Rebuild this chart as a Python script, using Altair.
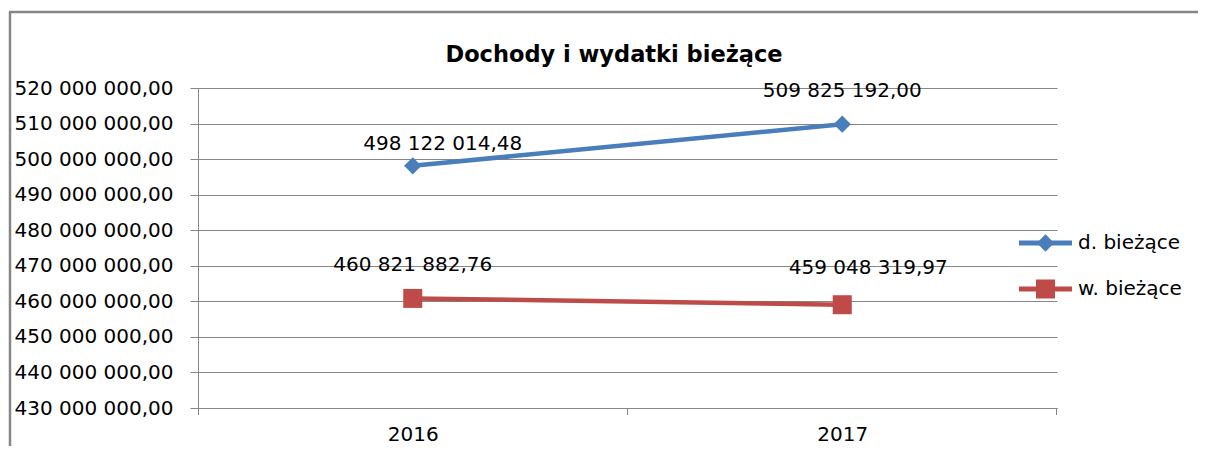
import altair as alt
import pandas as pd

# ---- data ----
years = ["2016", "2017"]
series_names = ["d. bieżące", "w. bieżące"]
d_values = [498122014.48, 509825192.00]
w_values = [460821882.76, 459048319.97]
y_ticks = [430e6, 440e6, 450e6, 460e6, 470e6, 480e6, 490e6, 500e6, 510e6, 520e6]
title_text = "Dochody i wydatki bieżące"

rows = []
for s, vals in zip(series_names, [d_values, w_values]):
    for yr, v in zip(years, vals):
        rows.append({"rok": yr, "seria": s, "wartosc": v})
df = pd.DataFrame(rows)

FONT = "DejaVu Sans"
GRID = "#868686"
COLORS = ["#4a7ebb", "#be4b48"]
SHAPES = ["diamond", "square"]
SIZES = [300, 361]
W, H = 859, 320

lab_expr = "replace(replace(format({v}, ',.2f'), regexp(',', 'g'), ' '), '.', ',')"

x_enc = alt.X(
    "rok:N",
    scale=alt.Scale(type="point", domain=years, padding=0.5),
    axis=alt.Axis(title=None, ticks=False, labelAngle=0, labelFontSize=20, labelFont=FONT,
                  labelColor="black", labelPadding=16, domainColor=GRID, domainWidth=1,
                  grid=False),
)
y_enc = alt.Y(
    "wartosc:Q",
    scale=alt.Scale(domain=[y_ticks[0], y_ticks[-1]], nice=False, zero=False),
    axis=alt.Axis(title=None, values=y_ticks, labelExpr=lab_expr.format(v="datum.value"),
                  tickSize=8, tickColor=GRID, gridColor=GRID, gridWidth=1, gridOpacity=1,
                  domainColor=GRID, labelFontSize=20, labelFont=FONT, labelColor="black",
                  labelPadding=17, labelOverlap=False, labelBaseline="middle"),
)

base = alt.Chart(df)
one = alt.Chart(pd.DataFrame({"k": [0]}))

color_scale = alt.Scale(domain=series_names, range=COLORS)

lines = base.mark_line(strokeWidth=4.5).encode(
    x=x_enc, y=y_enc, color=alt.Color("seria:N", scale=color_scale, legend=None)
)

points = [
    base.transform_filter(alt.datum.seria == series_names[i]).mark_point(
        shape=SHAPES[i], filled=True, size=SIZES[i], color=COLORS[i], opacity=1
    ).encode(x=x_enc, y=y_enc)
    for i in range(2)
]

# data labels (manually nudged as in the source)
def label(series_idx, year_idx, dx, dy):
    return base.transform_filter(
        (alt.datum.seria == series_names[series_idx]) & (alt.datum.rok == years[year_idx])
    ).transform_calculate(
        txt=lab_expr.format(v="datum.wartosc")
    ).mark_text(fontSize=20, font=FONT, color="black", dx=dx, dy=dy, align="center",
                baseline="middle").encode(x=x_enc, y=y_enc, text="txt:N")

labels = [label(0, 0, 30, -22), label(0, 1, 0, -33), label(1, 0, 0, -33), label(1, 1, 26, -37)]

# legend (drawn at the right, Excel style: line with marker)
legend_layers = []
for i, name in enumerate(series_names):
    ly = 155 + 46 * i
    legend_layers.append(one.mark_rule(color=COLORS[i], strokeWidth=5).encode(
        x=alt.value(821), x2=alt.value(874), y=alt.value(ly)))
    legend_layers.append(one.mark_point(shape=SHAPES[i], filled=True, size=SIZES[i],
                                        color=COLORS[i], opacity=1).encode(
        x=alt.value(847.5), y=alt.value(ly)))
    legend_layers.append(one.mark_text(fontSize=20, font=FONT, color="black", align="left",
                                       baseline="middle").encode(
        x=alt.value(880), y=alt.value(ly), text=alt.value(name)))

# category boundary ticks on x axis
xticks = [
    one.mark_rule(color=GRID, strokeWidth=1).encode(x=alt.value(xv), y=alt.value(H), y2=alt.value(H + 7))
    for xv in [0.5, W / 2, W - 0.5]
]

# outer chart frame
frame_left = one.mark_rule(color=GRID, strokeWidth=2.5).encode(
    x=alt.value(-188), y=alt.value(-76), y2=alt.value(H + 40))
frame_top = one.mark_rule(color=GRID, strokeWidth=2.5).encode(
    x=alt.value(-189), x2=alt.value(W + 141), y=alt.value(-76))

# chart title
title = one.mark_text(fontSize=22.5, font=FONT, fontWeight="bold", color="black",
                      align="center", baseline="alphabetic").encode(
    x=alt.value(416), y=alt.value(-26), text=alt.value(title_text))

chart = alt.layer(
    frame_left, frame_top, *xticks, lines, *points, *labels, *legend_layers, title
).properties(
    width=W, height=H,
    padding={"left": 190, "top": 80, "right": 141, "bottom": 38},
    autosize=alt.AutoSizeParams(type="none"),
).configure_view(stroke=None)

chart.save("out.html", embed_options={"renderer": "svg", "actions": False})
